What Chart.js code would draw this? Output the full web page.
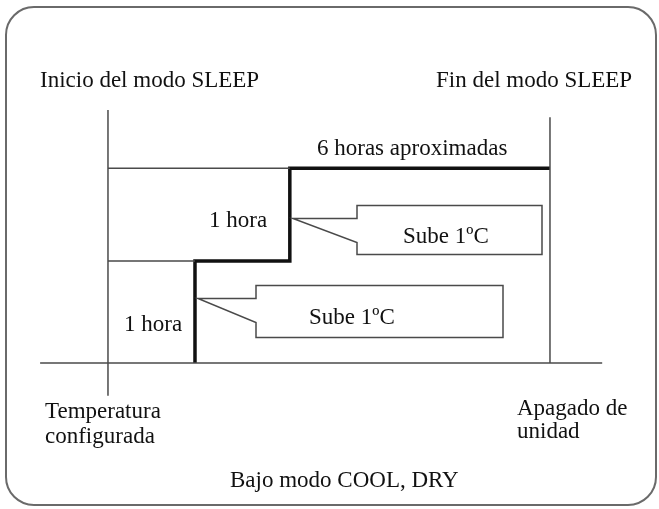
<!DOCTYPE html>
<html>
<head>
<meta charset="utf-8">
<script src="https://cdn.jsdelivr.net/npm/chart.js@4.4.1/dist/chart.umd.min.js"></script>
<style>
  html, body { margin: 0; padding: 0; background: #ffffff; }
  #wrap { width: 659px; height: 509px; position: relative; }
</style>
</head>
<body>
<div id="wrap"><canvas id="c" width="659" height="509"></canvas></div>
<script>
// ---- Data (hours since SLEEP start, temperature rise in ºC) ----
const stepHours = [1, 2.09];          // moments when the set temperature rises
const stepLevels = [0, 1, 1.91];      // rise above the set temperature (ºC)
const sleepStartHour = 0;
const sleepEndHour = 5.08;
const calloutTexts = ['Sube 1ºC', 'Sube 1ºC'];
const hourLabels = ['1 hora', '1 hora'];
const topLabel = '6 horas aproximadas';
const startLabel = 'Inicio del modo SLEEP';
const endLabel = 'Fin del modo SLEEP';
const setTempLabel = ['Temperatura', 'configurada'];
const offLabel = ['Apagado de', 'unidad'];
const modeLabel = 'Bajo modo COOL, DRY';

// ---- Build datasets from data ----
const stepLine = [{x: stepHours[0], y: stepLevels[0]}];
stepHours.forEach((h, i) => {
  stepLine.push({x: h, y: stepLevels[i]});
  stepLine.push({x: h, y: stepLevels[i + 1]});
});
stepLine.push({x: sleepEndHour, y: stepLevels[stepLevels.length - 1]});

const guides = [];
stepHours.forEach((h, i) => {
  guides.push({x: sleepStartHour, y: stepLevels[i + 1]});
  guides.push({x: h, y: stepLevels[i + 1]});
  guides.push({x: null, y: null});
});

const baseLine = [{x: -0.78, y: 0}, {x: 5.68, y: 0}];
const startAxis = [{x: sleepStartHour, y: -0.32}, {x: sleepStartHour, y: 2.48}];
const endAxis = [{x: sleepEndHour, y: 0}, {x: sleepEndHour, y: 2.41}];

const FONT = '23px "Liberation Serif", "Times New Roman", serif';
const INK = '#111111';
const GREY = '#4a4a4a';

const diagramPlugin = {
  id: 'diagram',
  beforeDraw(chart) {
    const ctx = chart.ctx;
    ctx.save();
    ctx.fillStyle = '#ffffff';
    ctx.fillRect(0, 0, chart.width, chart.height);
    // rounded frame
    ctx.strokeStyle = '#6a6a6a';
    ctx.lineWidth = 2;
    ctx.beginPath();
    ctx.roundRect(6, 7, 650, 498, 28);
    ctx.stroke();
    ctx.restore();
  },
  afterDraw(chart) {
    const ctx = chart.ctx;
    const xs = chart.scales.x, ys = chart.scales.y;
    ctx.save();
    // callouts anchored at the step line
    const anchors = [
      {h: stepHours[1], r: 1.42, left: 64, top: -13, right: 249, bottom: 36, notch: 24, text: calloutTexts[0], tx: 110, ty: 24},
      {h: stepHours[0], r: 0.637, left: 58, top: -13, right: 305, bottom: 39, notch: 24, text: calloutTexts[1], tx: 111, ty: 25}
    ];
    ctx.lineWidth = 1.5;
    ctx.strokeStyle = GREY;
    ctx.lineJoin = 'miter';
    anchors.forEach(a => {
      const px = Math.round(xs.getPixelForValue(a.h)) + 3;
      const py = Math.round(ys.getPixelForValue(a.r)) + 0.5;
      ctx.beginPath();
      ctx.moveTo(px, py);
      ctx.lineTo(px + a.left, py);
      ctx.lineTo(px + a.left, py + a.top);
      ctx.lineTo(px + a.right, py + a.top);
      ctx.lineTo(px + a.right, py + a.bottom);
      ctx.lineTo(px + a.left, py + a.bottom);
      ctx.lineTo(px + a.left, py + a.notch);
      ctx.closePath();
      ctx.stroke();
      ctx.fillStyle = INK;
      ctx.font = FONT;
      ctx.textBaseline = 'alphabetic';
      ctx.fillText(a.text, px + a.tx, py + a.ty);
    });

    ctx.fillStyle = INK;
    ctx.font = FONT;
    ctx.textBaseline = 'alphabetic';
    ctx.textAlign = 'left';
    ctx.fillText(startLabel, 40, 87);
    ctx.fillText(endLabel, 436, 87);
    ctx.fillText(topLabel, 317, 155);
    ctx.fillText(hourLabels[1], 209, 227);
    ctx.fillText(hourLabels[0], 124, 331);
    ctx.fillText(setTempLabel[0], 45, 418);
    ctx.fillText(setTempLabel[1], 45, 443);
    ctx.fillText(offLabel[0], 517, 415);
    ctx.fillText(offLabel[1], 517, 438);
    ctx.fillText(modeLabel, 230, 487);
    ctx.restore();
  }
};

const thin = {borderColor: GREY, borderWidth: 1.5, pointRadius: 0, fill: false, tension: 0, spanGaps: false};

new Chart(document.getElementById('c'), {
  type: 'scatter',
  data: {
    datasets: [
      Object.assign({data: baseLine, showLine: true}, thin),
      Object.assign({data: startAxis, showLine: true}, thin),
      Object.assign({data: endAxis, showLine: true}, thin),
      Object.assign({data: guides, showLine: true}, thin),
      {data: stepLine, showLine: true, borderColor: '#111111', borderWidth: 3.5,
       pointRadius: 0, fill: false, tension: 0, borderJoinStyle: 'miter', borderCapStyle: 'butt'}
    ]
  },
  options: {
    responsive: false,
    animation: false,
    events: [],
    layout: {padding: 0},
    plugins: {legend: {display: false}, tooltip: {enabled: false}},
    scales: {
      x: {type: 'linear', display: false, min: -1.241, max: 6.333},
      y: {type: 'linear', display: false, min: -1.431, max: 3.559}
    }
  },
  plugins: [diagramPlugin]
});
</script>
</body>
</html>
